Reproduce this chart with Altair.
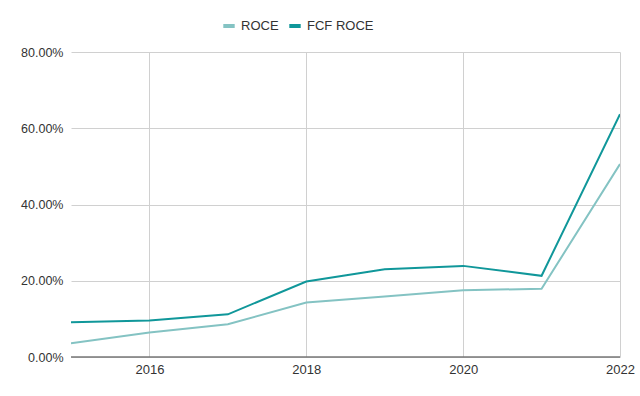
import altair as alt
import pandas as pd

years = [2015, 2016, 2017, 2018, 2019, 2020, 2021, 2022]
roce = [0.036, 0.064, 0.086, 0.143, 0.159, 0.175, 0.179, 0.506]
fcf_roce = [0.091, 0.096, 0.112, 0.198, 0.230, 0.239, 0.213, 0.637]
series = ["ROCE", "FCF ROCE"]
colors = ["#84c3c3", "#10979a"]

df = pd.DataFrame({"year": years, "ROCE": roce, "FCF ROCE": fcf_roce})
long = df.melt(id_vars="year", var_name="series", value_name="value")

font = "Liberation Sans"

lines = alt.Chart(long).mark_line(strokeWidth=2, clip=True).encode(
    x=alt.X(
        "year:Q",
        scale=alt.Scale(domain=[2015, 2022], nice=False, zero=False),
        axis=alt.Axis(
            values=[2016, 2018, 2020, 2022],
            format="d",
            title=None,
            ticks=False,
            domain=False,
            grid=True,
            gridColor="#d0d0d0",
            labelFont=font,
            labelFontSize=13,
            labelColor="#333333",
            labelPadding=6,
            labelFlush=False,
            labelBound=False,
        ),
    ),
    y=alt.Y(
        "value:Q",
        scale=alt.Scale(domain=[0, 0.8], nice=False),
        axis=alt.Axis(
            values=[0, 0.2, 0.4, 0.6, 0.8],
            format=".2%",
            title=None,
            ticks=False,
            domain=False,
            grid=True,
            gridColor="#d0d0d0",
            labelFont=font,
            labelFontSize=12.5,
            labelColor="#333333",
            labelPadding=8,
            labelFlush=False,
        ),
    ),
    color=alt.Color(
        "series:N",
        scale=alt.Scale(domain=series, range=colors),
        sort=series,
        legend=alt.Legend(
            title=None,
            orient="none",
            direction="horizontal",
            legendX=150,
            legendY=-34,
            symbolType="stroke",
            symbolStrokeWidth=4,
            symbolSize=130,
            labelFont=font,
            labelFontSize=13,
            labelColor="#333333",
            columnPadding=2,
        ),
    ),
)

baseline = alt.Chart(pd.DataFrame({"y": [0]})).mark_rule(
    color="#777777", strokeWidth=1.5
).encode(y=alt.Y("y:Q", scale=alt.Scale(domain=[0, 0.8])))

chart = (
    alt.layer(lines, baseline)
    .properties(
        width=549,
        height=305,
        autosize=alt.AutoSizeParams(type="none"),
        padding={"left": 71, "top": 52, "right": 20, "bottom": 39},
        background="white",
    )
    .configure_view(stroke=None)
)

chart.save("out.html", embed_options={"renderer": "svg", "actions": False})
